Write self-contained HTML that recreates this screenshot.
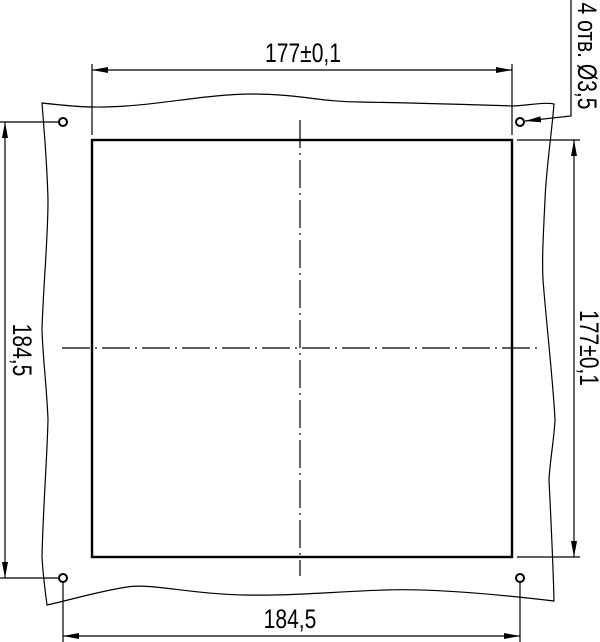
<!DOCTYPE html>
<html><head><meta charset="utf-8"><style>
html,body{margin:0;padding:0;background:#fff}
svg{display:block}
text{font-family:"Liberation Sans",sans-serif;font-size:27px;fill:#000}
</style></head><body>
<svg width="600" height="642" viewBox="0 0 600 642" xmlns="http://www.w3.org/2000/svg">
<defs>
<marker id="a" viewBox="0 0 16 6" refX="16" refY="3" markerWidth="16" markerHeight="6" orient="auto-start-reverse" markerUnits="userSpaceOnUse"><path d="M0,0 L16,3 L0,6 z" fill="#000"/></marker>
</defs>
<g fill="none" stroke="#000" stroke-width="1.2">
<path d="M42,103 C60,105 80,107 92,107 C150,108 200,94 253,94 C300,94 320,102 360,102 C420,103 480,105 514,106 C530,105 545,102 554,104
 C551,140 546,170 545,200 C543,240 542,260 543,280 C547,330 553,380 555,420 C554,440 550,460 549,480 C551,520 553,560 554,601
 C520,597 440,588 384,590 C330,592 290,596 245,595 C190,594 150,583 127,587 C100,591 70,600 47,605
 C45,590 43,575 42,557 C43,510 47,460 48,420 C47,390 43,360 42,330 C43,290 48,240 48,200 C47,160 44,130 42,103 Z"/>
<rect x="92" y="140" width="420" height="417" stroke-width="2.4"/>
<circle cx="63" cy="122" r="4" stroke-width="2"/>
<circle cx="520" cy="122" r="4" stroke-width="2"/>
<circle cx="63" cy="578" r="4" stroke-width="2"/>
<circle cx="520" cy="578" r="4" stroke-width="2"/>
<line x1="300" y1="120" x2="300" y2="576" stroke-dasharray="28,5,2,5"/>
<line x1="62" y1="348" x2="540" y2="348" stroke-dasharray="28,5,2,5"/>
<line x1="92" y1="64" x2="92" y2="135"/>
<line x1="512" y1="64" x2="512" y2="135"/>
<line x1="92" y1="70" x2="512" y2="70" marker-start="url(#a)" marker-end="url(#a)"/>
<line x1="63" y1="582" x2="63" y2="642"/>
<line x1="520" y1="582" x2="520" y2="642"/>
<line x1="63" y1="636" x2="520" y2="636" marker-start="url(#a)" marker-end="url(#a)"/>
<line x1="0" y1="122" x2="59" y2="122"/>
<line x1="0" y1="578" x2="59" y2="578"/>
<line x1="5" y1="122" x2="5" y2="578" marker-start="url(#a)" marker-end="url(#a)"/>
<line x1="517" y1="140" x2="580" y2="140"/>
<line x1="517" y1="557" x2="580" y2="557"/>
<line x1="574" y1="140" x2="574" y2="557" marker-start="url(#a)" marker-end="url(#a)"/>
<polyline points="571,0 571,116 525,121" marker-end="url(#a)"/>
</g>
<text x="303" y="62" text-anchor="middle" transform="translate(303 0) scale(0.78 1) translate(-303 0)">177±0,1</text>
<text x="290" y="628" text-anchor="middle" transform="translate(290 0) scale(0.78 1) translate(-290 0)">184,5</text>
<g transform="translate(13 350) rotate(90)"><text x="0" y="0" text-anchor="middle" transform="scale(0.78 1)">184,5</text></g>
<g transform="translate(580 348) rotate(90)"><text x="0" y="0" text-anchor="middle" transform="scale(0.78 1)">177±0,1</text></g>
<g transform="translate(578 56) rotate(90)"><text x="0" y="0" text-anchor="middle" transform="scale(0.78 1)">4 отв. Ø3,5</text></g>
</svg>
</body></html>
